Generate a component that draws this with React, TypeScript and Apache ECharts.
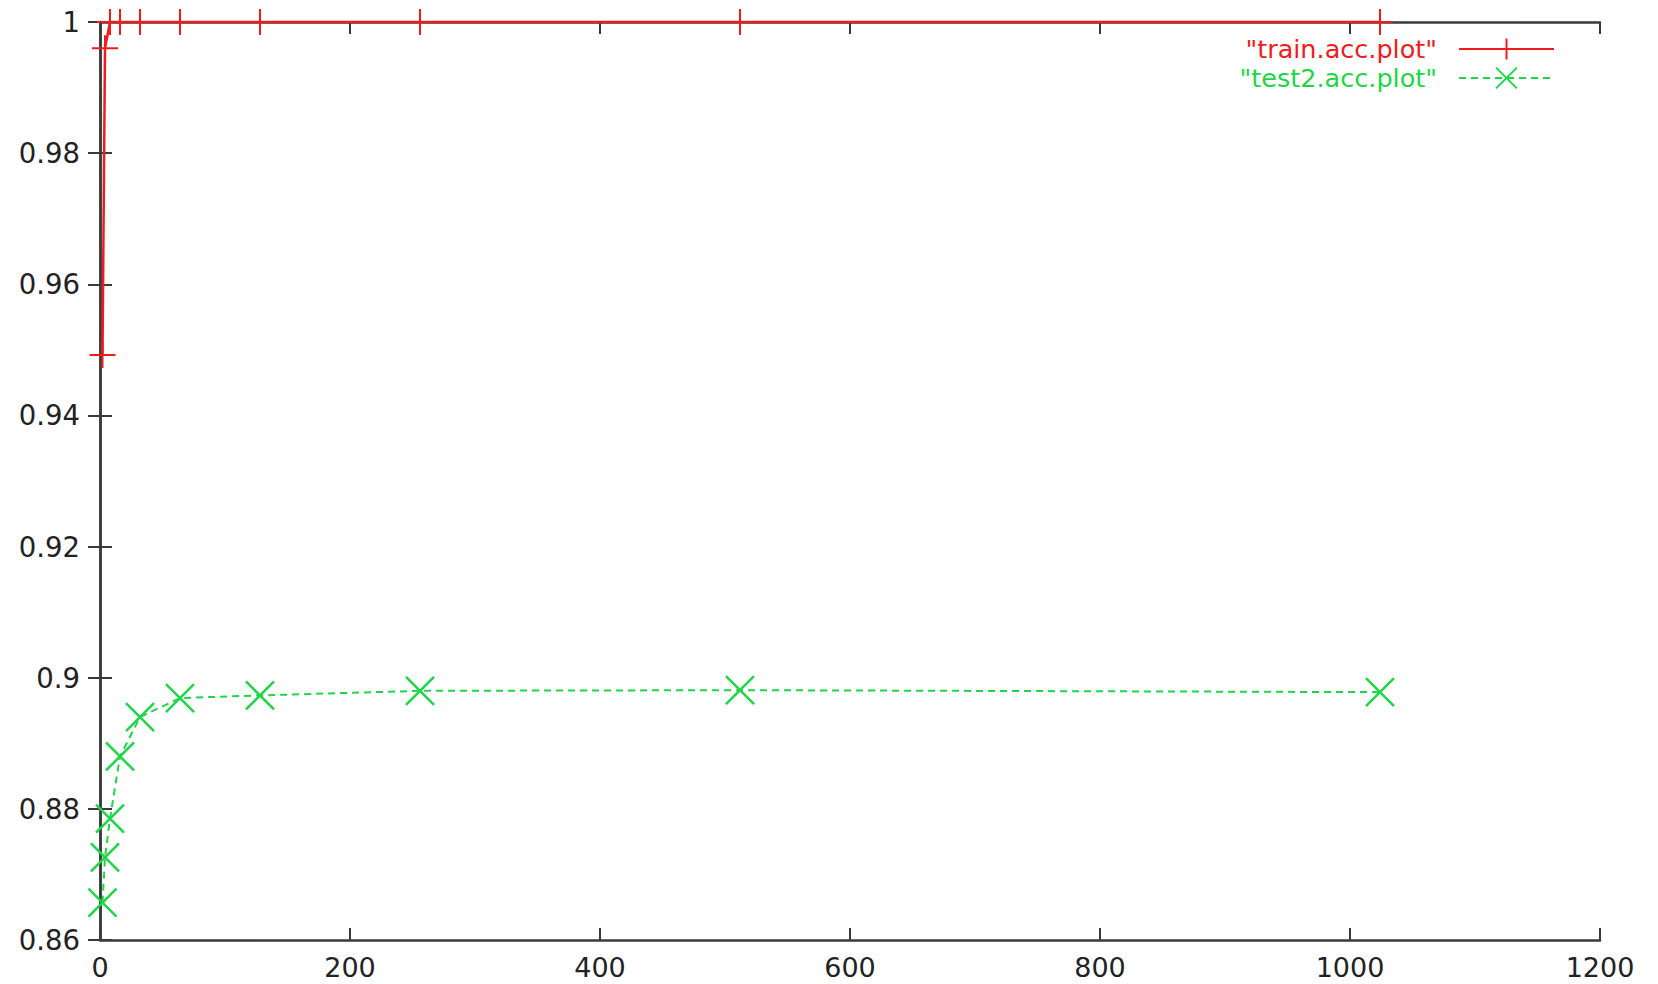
import React, { useEffect, useRef } from "react";
import * as echarts from "echarts";

const xValues = [2, 4, 8, 16, 32, 64, 128, 256, 512, 1024];
const trainAcc = [0.9492, 0.996, 1, 1, 1, 1, 1, 1, 1, 1];
const testAcc = [0.8657, 0.8726, 0.8785, 0.888, 0.894, 0.8969, 0.8973, 0.898, 0.8981, 0.8978];
const seriesNames = ['"train.acc.plot"', '"test2.acc.plot"'];

const RED = "#f01c1c";
const GREEN = "#1ed648";
const AXIS = "#3a3a3a";
const FONT = "DejaVu Sans";

const PLUS = "path://M0 10 L20 10 M10 0 L10 20";
const CROSS = "path://M0 0 L20 20 M20 0 L0 20";

export default function App() {
  const ref = useRef<HTMLDivElement>(null);
  useEffect(() => {
    if (!ref.current) return;
    const chart = echarts.init(ref.current, undefined, { renderer: "svg" });
    const axisLine = { show: true, lineStyle: { color: AXIS, width: 2.5 } };
    const axisTick = { show: true, inside: true, length: 12, lineStyle: { color: AXIS, width: 2 } };
    const yFmt = (v: number) => String(+v.toFixed(2));
    const xFmt = (v: number) => String(Math.round(v));
    chart.setOption({
      animation: false,
      backgroundColor: "#ffffff",
      grid: { left: 100, right: 58, top: 22, bottom: 44, containLabel: false },
      legend: {
        orient: "vertical",
        right: 98,
        top: 31,
        align: "right",
        itemWidth: 95,
        itemHeight: 26,
        itemGap: 3,
        textStyle: { fontFamily: FONT, fontSize: 25.5, padding: [0, 17, 0, 0] },
        data: [
          { name: seriesNames[0], textStyle: { color: RED } },
          { name: seriesNames[1], textStyle: { color: GREEN } },
        ],
      },
      xAxis: [
        {
          type: "value",
          min: 0,
          max: 1200,
          interval: 200,
          position: "bottom",
          axisLine,
          axisTick,
          splitLine: { show: false },
          axisLabel: { color: "#222", fontFamily: FONT, fontSize: 27, margin: 14, formatter: xFmt },
        },
        {
          type: "value",
          min: 0,
          max: 1200,
          interval: 200,
          position: "top",
          axisLine,
          axisTick,
          splitLine: { show: false },
          axisLabel: { show: false },
        },
      ],
      yAxis: [
        {
          type: "value",
          min: 0.86,
          max: 1,
          interval: 0.02,
          position: "left",
          axisLine,
          axisTick,
          splitLine: { show: false },
          axisLabel: { color: "#222", fontFamily: FONT, fontSize: 27.5, margin: 20, formatter: yFmt },
        },
        {
          type: "value",
          min: 0.86,
          max: 1,
          interval: 0.02,
          position: "right",
          axisLine,
          axisTick,
          splitLine: { show: false },
          axisLabel: { show: false },
        },
      ],
      series: [
        {
          name: seriesNames[0],
          type: "line",
          data: xValues.map((x, i) => [x, trainAcc[i]]),
          symbol: PLUS,
          symbolSize: 26,
          clip: false,
          lineStyle: { color: RED, width: 2.5 },
          itemStyle: { color: RED, borderColor: RED, borderWidth: 2 },
          z: 3,
        },
        {
          name: seriesNames[1],
          type: "line",
          data: xValues.map((x, i) => [x, testAcc[i]]),
          symbol: CROSS,
          symbolSize: 28,
          clip: false,
          lineStyle: { color: GREEN, width: 2, type: [7, 5] },
          itemStyle: { color: GREEN, borderColor: GREEN, borderWidth: 2.5 },
          z: 3,
        },
      ],
    });
    return () => chart.dispose();
  }, []);
  return (
    <div
      ref={ref}
      style={{ position: "fixed", left: 0, top: 0, width: 1658, height: 984, background: "#fff" }}
    />
  );
}
